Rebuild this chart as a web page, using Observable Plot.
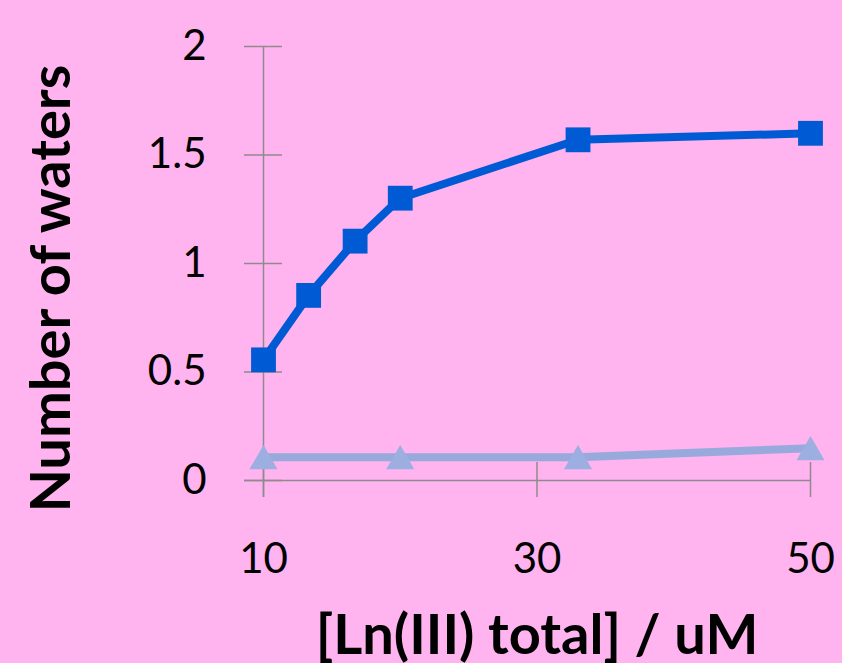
<!DOCTYPE html>
<html>
<head>
<meta charset="utf-8">
<script src="https://cdn.jsdelivr.net/npm/d3@7"></script>
<script src="https://cdn.jsdelivr.net/npm/@observablehq/plot@0.6"></script>
<style>
  html, body { margin: 0; padding: 0; background: #FFB3EF; }
  #chart svg { display: block; }
</style>
</head>
<body>
<div id="chart"></div>
<script>
// Data
const concLn = [10, 13.3, 16.7, 20, 33, 50];
const watersA = [0.556, 0.853, 1.103, 1.301, 1.57, 1.60];
const concB = [10, 20, 33, 50];
const watersB = [0.107, 0.107, 0.107, 0.149];
const xTicks = [10, 30, 50];
const yTicks = [0, 0.5, 1, 1.5, 2];
const xTitle = "[Ln(III) total] / uM";
const yTitle = "Number of waters";

const seriesA = concLn.map((x, i) => ({x, y: watersA[i]}));
const seriesB = concB.map((x, i) => ({x, y: watersB[i]}));

const pink = "#FFB3EF";
const blue = "#005AD4";
const lavLine = "#98A9DC";
const lavFill = "#9DAEE0";
const grey = "#8E8A8E";

const chart = Plot.plot({
  width: 842,
  height: 663,
  marginLeft: 263,
  marginRight: 32,
  marginTop: 46,
  marginBottom: 183,
  style: {background: pink, fontFamily: "Lato, 'Open Sans', sans-serif", color: "black"},
  x: {domain: [10, 50]},
  y: {domain: [0, 2]},
  marks: [
    // axis lines
    Plot.ruleY([0], {stroke: grey, strokeWidth: 1.5, insetLeft: -19}),
    Plot.ruleX([xTicks[0]], {stroke: grey, strokeWidth: 1.5, insetBottom: -17}),
    // crossing tick marks
    Plot.ruleY(yTicks, {x1: xTicks[0], x2: xTicks[0], stroke: grey, strokeWidth: 1.5, insetLeft: -19, insetRight: -19}),
    Plot.ruleX(xTicks, {y1: yTicks[0], y2: yTicks[0], stroke: grey, strokeWidth: 1.5, insetTop: -18, insetBottom: -17}),
    // tick labels
    Plot.axisY({ticks: yTicks, tickFormat: d => `${d}`, tickSize: 0, tickPadding: 57, fontSize: 42, label: null, fill: "black"}),
    Plot.axisX({ticks: xTicks, tickFormat: d => `${d}`, tickSize: 0, tickPadding: 63, fontSize: 42, label: null, fill: "black"}),
    // series B (light)
    Plot.line(seriesB, {x: "x", y: "y", stroke: lavLine, strokeWidth: 8}),
    Plot.dot(seriesB, {x: "x", y: "y", symbol: "triangle", r: 10.4, fill: lavFill, stroke: "none", dy: 4}),
    // series A (blue)
    Plot.line(seriesA, {x: "x", y: "y", stroke: blue, strokeWidth: 8}),
    Plot.dot(seriesA, {x: "x", y: "y", symbol: "square", r: 14, fill: blue, stroke: "none"}),
    // titles
    Plot.text([xTitle], {frameAnchor: "bottom", dy: 156, text: d => d, fontSize: 56, fontWeight: "bold", fill: "black", textAnchor: "middle", lineAnchor: "middle"}),
    Plot.text([yTitle], {frameAnchor: "left", dx: -211, dy: 25, rotate: -90, text: d => d, fontSize: 56, fontWeight: "bold", fill: "black", textAnchor: "middle", lineAnchor: "middle"})
  ]
});
document.getElementById("chart").appendChild(chart);
</script>
</body>
</html>
